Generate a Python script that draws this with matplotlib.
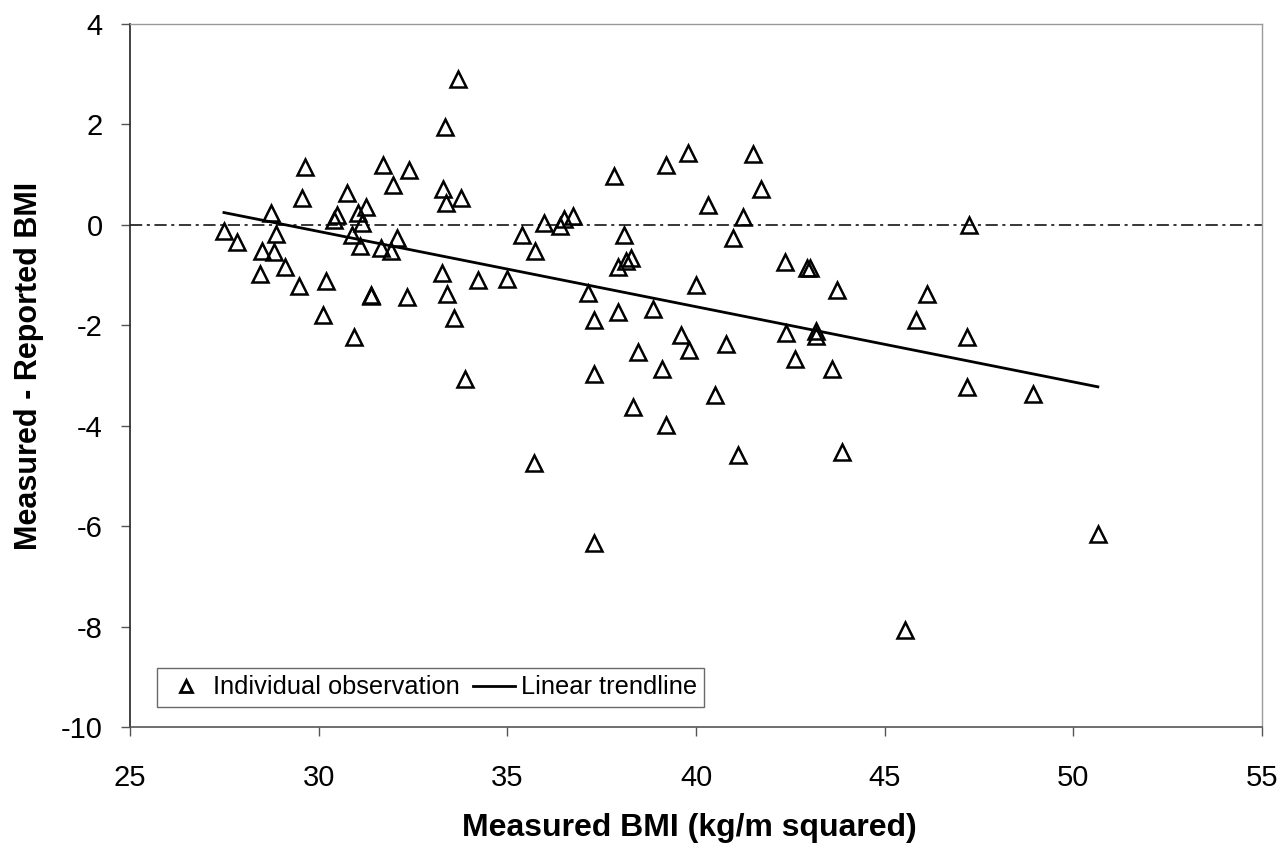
import numpy as np
import matplotlib
matplotlib.use("Agg")
import matplotlib.pyplot as plt
from matplotlib.lines import Line2D

plt.rcParams['font.family'] = ['Liberation Sans', 'DejaVu Sans']

# Measured BMI (kg/m^2)
measured_bmi = [
    27.49, 27.83, 28.73, 28.88, 28.50, 28.82, 28.45, 29.12, 29.49, 29.64,
    29.56, 30.20, 30.11, 30.40, 30.48, 30.75, 30.89, 31.05, 31.26, 31.16,
    31.10, 30.94, 31.39, 31.40, 31.70, 31.98, 32.40, 32.08, 31.65, 31.92,
    32.34, 33.36, 33.68, 33.30, 33.37, 33.77, 33.28, 33.39, 33.59, 33.89,
    34.22, 34.98, 35.40, 35.74, 35.97, 36.40, 36.50, 36.74, 35.70, 37.82,
    38.09, 37.94, 38.14, 38.28, 37.13, 37.30, 37.30, 37.29, 37.94, 38.46,
    38.34, 38.86, 39.10, 39.21, 39.20, 39.78, 39.60, 39.82, 40.01, 40.31,
    40.51, 40.80, 41.12, 40.99, 41.25, 41.52, 41.72, 42.37, 42.39, 42.62,
    42.93, 43.02, 43.73, 43.17, 43.17, 43.61, 43.86, 46.12, 45.83, 47.24,
    47.18, 47.19, 48.92, 50.65, 45.55,
]
# Measured - Reported BMI
bmi_difference = [
    -0.13, -0.34, 0.24, -0.19, -0.52, -0.54, -0.97, -0.83, -1.21, 1.15,
    0.54, -1.11, -1.80, 0.10, 0.20, 0.64, -0.20, 0.23, 0.35, 0.04,
    -0.42, -2.23, -1.41, -1.39, 1.19, 0.80, 1.10, -0.27, -0.47, -0.52,
    -1.43, 1.94, 2.91, 0.71, 0.43, 0.53, -0.96, -1.38, -1.86, -3.07,
    -1.10, -1.08, -0.21, -0.53, 0.03, -0.02, 0.11, 0.18, -4.75, 0.98,
    -0.20, -0.83, -0.72, -0.66, -1.35, -1.90, -2.98, -6.33, -1.74, -2.54,
    -3.62, -1.68, -2.88, -3.98, 1.20, 1.44, -2.19, -2.50, -1.20, 0.40,
    -3.38, -2.37, -4.59, -0.27, 0.16, 1.41, 0.71, -0.73, -2.15, -2.68,
    -0.85, -0.85, -1.29, -2.12, -2.22, -2.87, -4.52, -1.37, -1.89, 0.00,
    -2.23, -3.23, -3.36, -6.16, -8.07,
]

x_ticks = [25, 30, 35, 40, 45, 50, 55]
y_ticks = [4, 2, 0, -2, -4, -6, -8, -10]

x = np.array(measured_bmi)
y = np.array(bmi_difference)

fig = plt.figure(figsize=(12.84, 8.44), dpi=100)
ax = fig.add_axes([130 / 1284, (844 - 727) / 844, 1132 / 1284, 703 / 844])

# zero reference line
ax.axhline(0, color='black', lw=1.1, ls=(0, (8, 3, 2, 3)), zorder=1)

# observations
ax.plot(x, y, ls='none', marker='^', markersize=11, markerfacecolor='none',
        markeredgecolor='black', markeredgewidth=1.8, zorder=3)

# linear trendline (least squares fit of the observations)
slope, intercept = np.polyfit(x, y, 1)
xs = np.array([x.min(), x.max()])
ax.plot(xs, slope * xs + intercept, color='black', lw=2.0, zorder=2)

ax.set_xlim(25, 55)
ax.set_ylim(-10, 4)
ax.set_xticks(x_ticks)
ax.set_yticks(y_ticks)
ax.set_xticklabels([str(t) for t in x_ticks])
ax.set_yticklabels([str(t) for t in y_ticks])
ax.tick_params(axis='both', direction='out', length=6.5, width=1, color='#555555',
               labelsize=21)
ax.tick_params(axis='x', pad=20.5)
ax.tick_params(axis='y', pad=13)

for side in ['top', 'right']:
    ax.spines[side].set_color('#9a9a9a')
    ax.spines[side].set_linewidth(1.0)
ax.spines['left'].set_color('#222222')
ax.spines['left'].set_linewidth(1.2)
ax.spines['bottom'].set_color('#555555')
ax.spines['bottom'].set_linewidth(1.2)

ax.set_xlabel('Measured BMI (kg/m squared)', fontsize=23, fontweight='bold')
ax.set_ylabel('Measured - Reported BMI', fontsize=22, fontweight='bold')
ax.xaxis.set_label_coords(0.4938, -0.122)
ax.yaxis.set_label_coords(-0.076, 0.513)

handles = [
    Line2D([], [], ls='none', marker='^', markersize=9, markerfacecolor='none',
           markeredgecolor='black', markeredgewidth=2.0),
    Line2D([], [], color='black', lw=2.0),
]
leg = ax.legend(handles, ['Individual observation', 'Linear trendline'],
                loc='lower left', bbox_to_anchor=(0.0239, 0.0284), borderaxespad=0,
                ncol=2, fontsize=18.3, frameon=True, fancybox=False,
                handlelength=1.65, handletextpad=0.24, columnspacing=0.52,
                borderpad=0.3)
leg.get_frame().set_edgecolor('#444444')
leg.get_frame().set_linewidth(1.0)

fig.savefig('out.png', dpi=100)
